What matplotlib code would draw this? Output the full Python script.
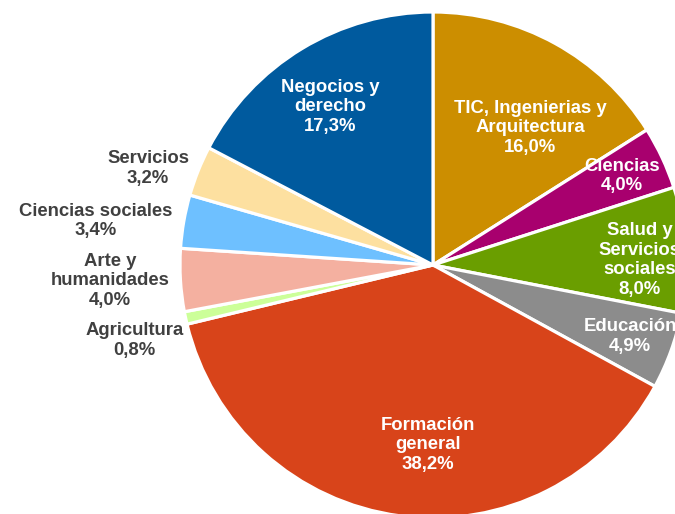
import matplotlib
matplotlib.use("Agg")
import matplotlib.pyplot as plt

categories = ["TIC, Ingenierias y\nArquitectura", "Ciencias", "Salud y\nServicios\nsociales",
              "Educación", "Formación\ngeneral", "Agricultura", "Arte y\nhumanidades",
              "Ciencias sociales", "Servicios", "Negocios y\nderecho"]
values = [16.0, 4.0, 8.0, 4.9, 38.2, 0.8, 4.0, 3.4, 3.2, 17.3]
pct_labels = ["16,0%", "4,0%", "8,0%", "4,9%", "38,2%", "0,8%", "4,0%", "3,4%", "3,2%", "17,3%"]

colors = ["#CC8E00", "#A8006E", "#6A9E00", "#8C8C8C", "#D8441A", "#CCFF99",
          "#F4B0A0", "#6EC0FF", "#FDE0A0", "#005A9E"]
inside = [True, True, True, True, True, False, False, False, False, True]
# label positions in units of pie radius (x, y)
label_pos = [(0.383, 0.542), (0.747, 0.352), (0.818, 0.02), (0.779, -0.281),
             (-0.02, -0.711), (-1.18, -0.300), (-1.277, -0.063), (-1.332, 0.174),
             (-1.126, 0.383), (-0.407, 0.625)]

W, H = 675, 514
cx, cy, R = 433, 265, 253
fig = plt.figure(figsize=(W / 100, H / 100), dpi=100)
ax = fig.add_axes([0, 0, 1, 1])
ax.pie(values, colors=colors, startangle=90, counterclock=False, radius=1,
       wedgeprops=dict(edgecolor="white", linewidth=2.3))
ax.set_xlim(-cx / R, (W - cx) / R)
ax.set_ylim(-(H - cy) / R, cy / R)
ax.set_aspect("auto")
ax.axis("off")

for cat, pct, (x, y), ins in zip(categories, pct_labels, label_pos, inside):
    ax.text(x, y, f"{cat}\n{pct}", ha="center", va="center", fontsize=13.3,
            fontweight="bold", family="Liberation Sans",
            color="white" if ins else "#404040", linespacing=1.22)

fig.savefig("out.png", dpi=100)
